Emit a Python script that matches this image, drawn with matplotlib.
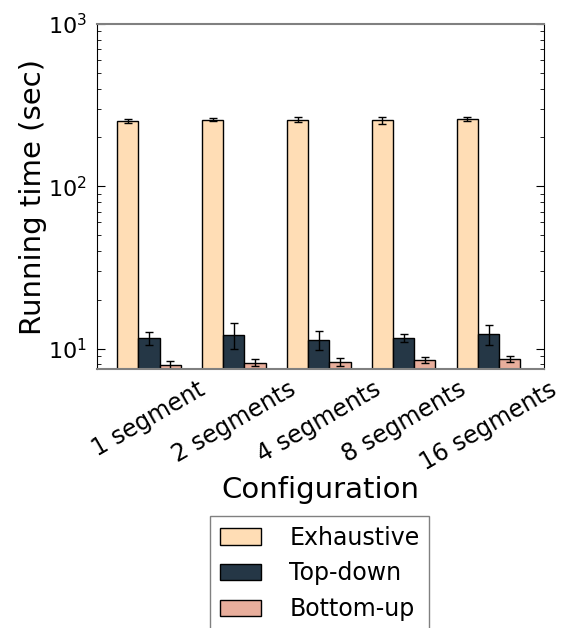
import numpy as np
import matplotlib
matplotlib.use("Agg")
import matplotlib.pyplot as plt

# Data (running time, seconds)
configs = ["1 segment", "2 segments", "4 segments", "8 segments", "16 segments"]
series_names = ["Exhaustive", "Top-down", "Bottom-up"]

exhaustive = [253, 258, 257, 256, 261]
exhaustive_err = [7, 6, 9, 13, 8]
topdown = [11.6, 12.2, 11.3, 11.6, 12.3]
topdown_err = [1.0, 2.2, 1.5, 0.65, 1.7]
bottomup = [7.95, 8.2, 8.3, 8.55, 8.65]
bottomup_err = [0.45, 0.4, 0.45, 0.35, 0.42]

COLORS = ["#FFDDB5", "#253746", "#E8AE9C"]

plt.rcParams.update({
    "font.family": "DejaVu Sans",
    "font.size": 16,
})

fig = plt.figure(figsize=(5.67, 6.28), dpi=100)
ax = fig.add_axes([0.171, 0.4124, 0.788, 0.5494])

x = np.arange(len(configs))
width = 0.25
vals = [exhaustive, topdown, bottomup]
errs = [exhaustive_err, topdown_err, bottomup_err]
for k, (v, e) in enumerate(zip(vals, errs)):
    ax.bar(x + (k - 1) * width, v, width, yerr=e, color=COLORS[k],
           edgecolor="black", linewidth=1.0, label=series_names[k],
           error_kw=dict(ecolor="black", elinewidth=1.0, capsize=3,
                         capthick=1.0))

ax.set_yscale("log")
ax.set_ylim(7.5, 1000)
ax.set_xlim(-0.612, 4.65)
ax.set_xticks(x)
ax.set_xticklabels(configs, rotation=30, ha="center", fontsize=17)
ax.tick_params(axis="x", length=0, pad=6)
ax.tick_params(axis="y", which="both", direction="in", left=True,
               right=True, labelsize=16, pad=7)
ax.tick_params(axis="y", which="major", length=6)
ax.tick_params(axis="y", which="minor", length=3)

for side in ("top", "bottom"):
    ax.spines[side].set_color("#808080")
    ax.spines[side].set_linewidth(1.5)
for side in ("left", "right"):
    ax.spines[side].set_color("black")

ax.set_xlabel("Configuration", fontsize=21, labelpad=1)
ax.set_ylabel("Running time (sec)", fontsize=21, labelpad=1)

leg = ax.legend(loc="upper center", bbox_to_anchor=(0.564, 0.178),
                bbox_transform=fig.transFigure, fontsize=17,
                fancybox=False, edgecolor="#808080", framealpha=1,
                handlelength=1.75, handletextpad=1.2, borderaxespad=0)
leg.get_frame().set_linewidth(1.0)

fig.savefig("out.png", dpi=100)
